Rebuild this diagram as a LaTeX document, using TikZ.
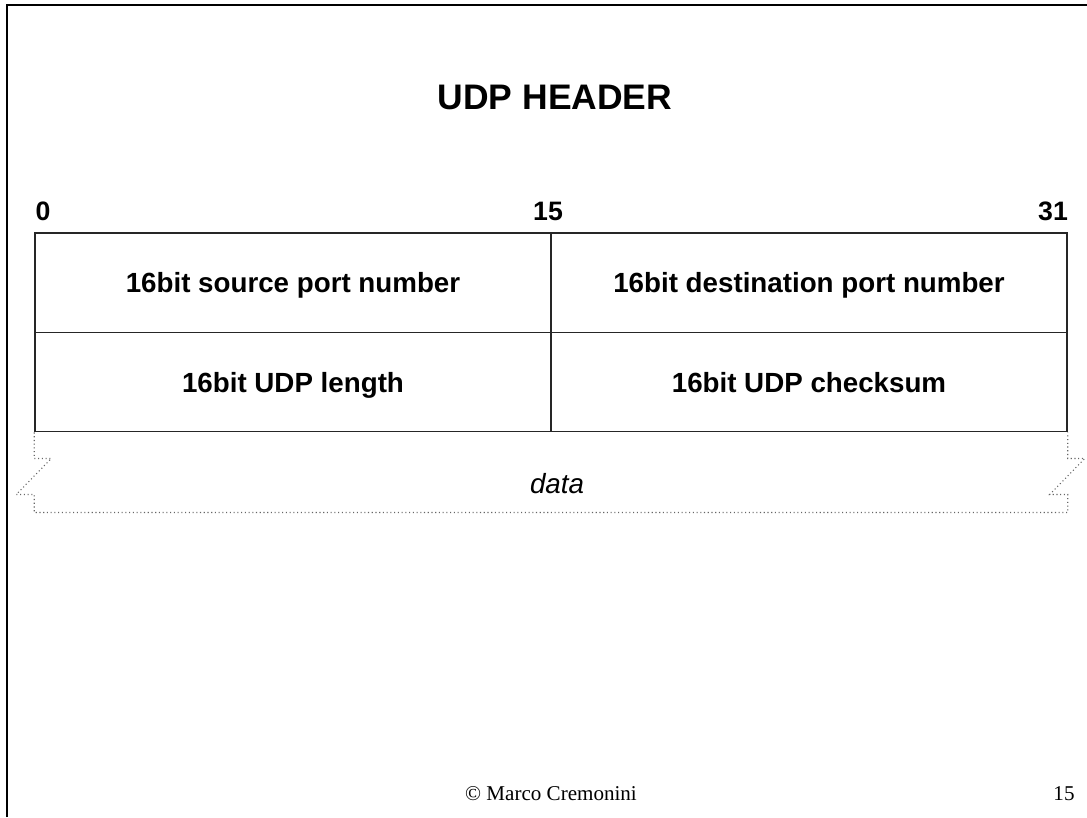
\documentclass[tikz,border=0pt]{standalone}
\usepackage{fontspec}
\setmainfont{Liberation Serif}
\newfontfamily\arial{Liberation Sans}
\begin{document}
\begin{tikzpicture}[x=0.75pt,y=-0.75pt,
  cell/.style={draw=black!85,line width=1.1pt,minimum width=387pt,minimum height=74.6pt,
    inner sep=0pt,font=\arial\bfseries\fontsize{20.8pt}{24pt}\selectfont,
    text height=19.5pt,text depth=4.4pt},
  bitlabel/.style={anchor=base,font=\arial\bfseries\fontsize{20pt}{24pt}\selectfont,inner sep=0pt},
  datapath/.style={draw=black!60,dotted,line width=0.8pt},
  frame/.style={line width=1.5pt}]
\useasboundingbox (0,0) rectangle (1087,817);
% slide frame (left and top edges)
\coordinate (fbl) at (7,817);
\coordinate (ftl) at (7,5);
\coordinate (ftr) at (1087,5);
\draw[frame] (fbl) -- (ftl) -- (ftr);
% title
\node[anchor=base,inner sep=0pt,font=\arial\bfseries\fontsize{26.6pt}{30pt}\selectfont] (title) at (555,109) {UDP HEADER};
% bit positions
\node[bitlabel] (b0) at (43,220) {0};
\node[bitlabel] (b15) at (548,220) {15};
\node[bitlabel] (b31) at (1053,220) {31};
% header fields
\node[cell] (src) at (293,282.5) {16bit source port number};
\node[cell] (dst) at (809,282.5) {16bit destination port number};
\node[cell] (len) at (293,382) {16bit UDP length};
\node[cell] (sum) at (809,382) {16bit UDP checksum};
% data area with broken sides
\draw[datapath] (len.south west) -- ++(0,26) -- ++(17,0) -- ++(-35,36) -- ++(18,0) -- ++(0,18)
  coordinate (dbl) -- (dbl -| sum.south east) coordinate (dbr) -- ++(0,-18) -- ++(-18,0)
  -- ++(35,-36) -- ++(-17,0) -- (sum.south east);
\node[anchor=base,inner sep=0pt,font=\arial\itshape\fontsize{20.8pt}{24pt}\selectfont] (data) at (557,493) {data};
% footer
\node[anchor=base,inner sep=0pt,font=\fontsize{15.8pt}{18pt}\selectfont] (author) at (551,800) {© Marco Cremonini};
\node[anchor=base,inner sep=0pt,font=\fontsize{15.8pt}{18pt}\selectfont] (page) at (1064,800) {15};
\end{tikzpicture}
\end{document}
